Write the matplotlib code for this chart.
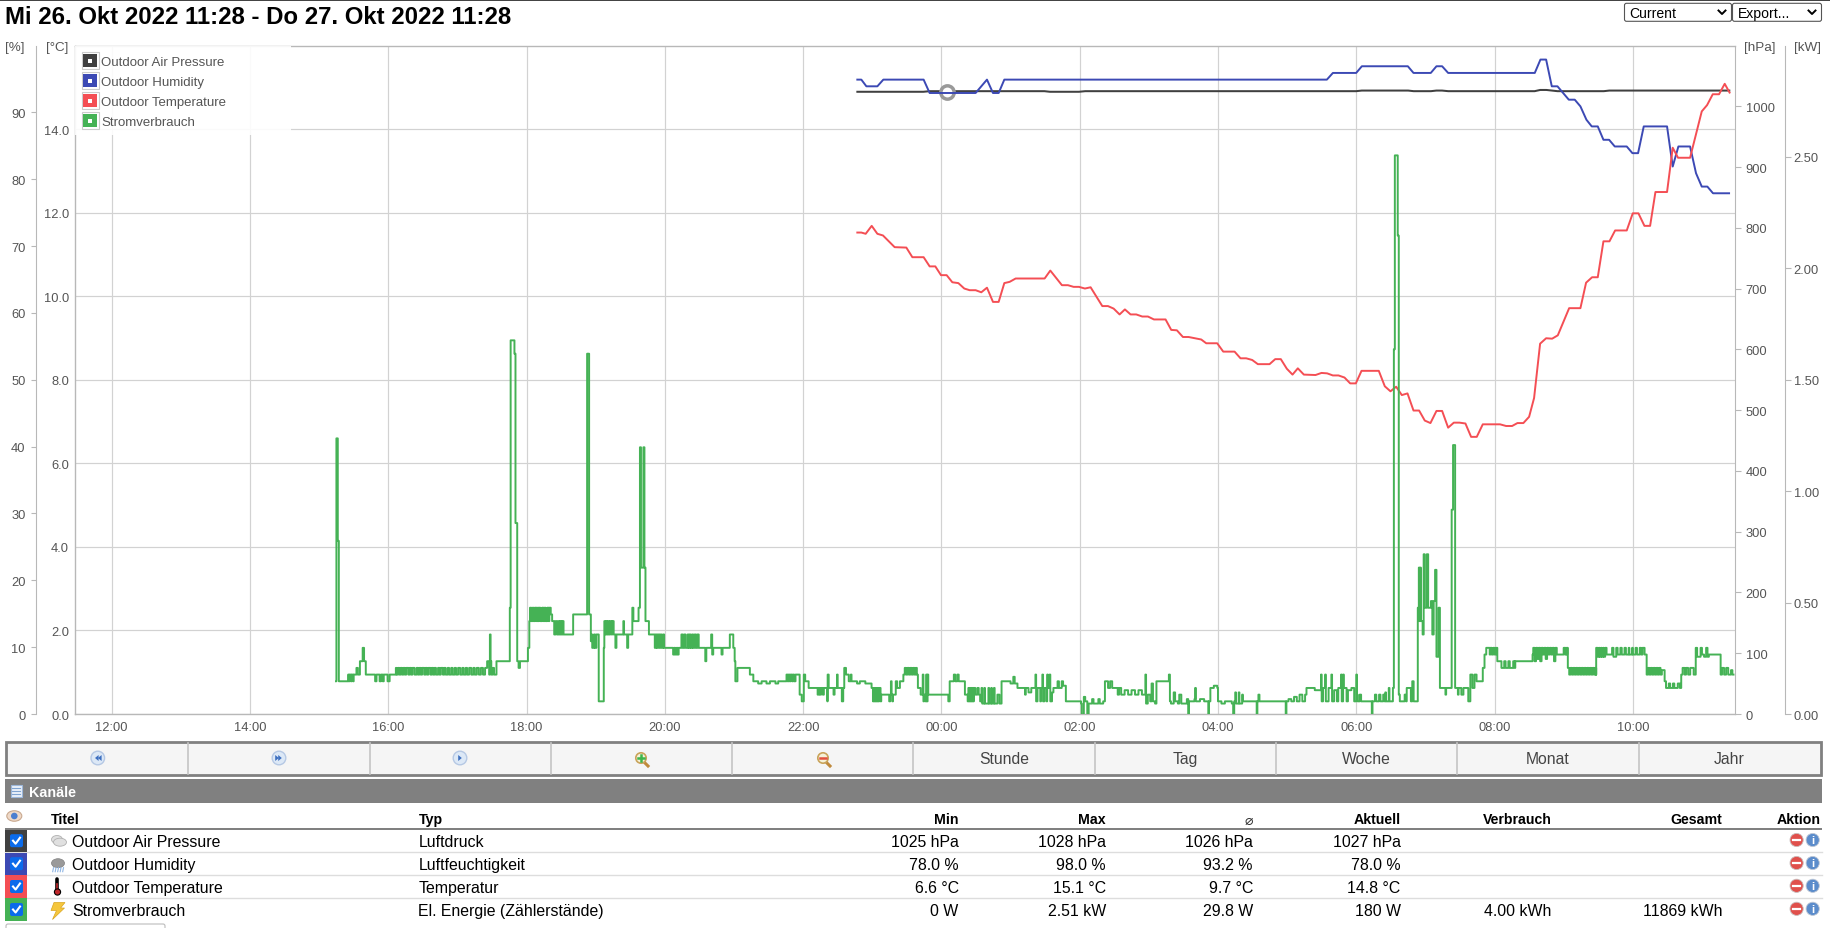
import matplotlib
matplotlib.use("Agg")
import matplotlib.pyplot as plt
from matplotlib.patches import Rectangle, Circle, Ellipse, Polygon, FancyBboxPatch
from matplotlib.transforms import ScaledTranslation

plt.rcParams['font.family'] = ['Liberation Sans', 'DejaVu Sans']

# ---------------- DATA ----------------
title_text = "Mi 26. Okt 2022 11:28 - Do 27. Okt 2022 11:28"
series_names = ["Outdoor Air Pressure", "Outdoor Humidity", "Outdoor Temperature", "Stromverbrauch"]
series_types = ["Luftdruck", "Luftfeuchtigkeit", "Temperatur", "El. Energie (Zählerstände)"]
col_min = ["1025 hPa", "78.0 %", "6.6 °C", "0 W"]
col_max = ["1028 hPa", "98.0 %", "15.1 °C", "2.51 kW"]
col_avg = ["1026 hPa", "93.2 %", "9.7 °C", "29.8 W"]
col_now = ["1027 hPa", "78.0 %", "14.8 °C", "180 W"]
col_use = ["", "", "", "4.00 kWh"]
col_total = ["", "", "", "11869 kWh"]
buttons = ["Stunde", "Tag", "Woche", "Monat", "Jahr"]

hour_ticks = [12, 14, 16, 18, 20, 22, 24, 26, 28, 30, 32, 34]
hour_labels = ["12:00", "14:00", "16:00", "18:00", "20:00", "22:00", "00:00", "02:00", "04:00", "06:00", "08:00", "10:00"]

pressure_hours = [22.77, 23.74, 23.83, 25.49, 25.57, 25.99, 26.08, 30.0, 30.08, 30.75, 30.83, 31.08, 31.16, 31.24, 31.33,
                  32.58, 32.66, 32.75, 32.83, 32.91, 33.58, 33.66, 35.41]
pressure_hpa = [1025, 1025, 1026, 1026, 1025, 1025, 1026, 1026, 1027, 1027, 1026, 1026, 1027, 1027, 1026,
                1026, 1028, 1028, 1027, 1026, 1026, 1027, 1027]

humidity_hours = [22.77, 22.842, 22.915, 23.074, 23.16, 23.743, 23.83, 24.495, 24.659, 24.746, 24.828, 24.91, 29.575, 29.662,
                  29.999, 30.081, 30.746, 30.828, 31.078, 31.16, 31.242, 31.329, 32.582, 32.664, 32.746, 32.828, 32.91,
                  33.074, 33.16, 33.242, 33.329, 33.406, 33.493, 33.575, 33.657, 33.739, 33.912, 33.994, 34.076, 34.158,
                  34.495, 34.577, 34.659, 34.828, 34.914, 34.997, 35.078, 35.16, 35.406]
humidity_pct = [95, 95, 94, 94, 95, 95, 93, 93, 95, 93, 93, 95, 95, 96,
                96, 97, 97, 96, 96, 97, 97, 96, 96, 98, 98, 94, 94,
                92, 92, 91, 89, 88, 88, 86, 86, 85, 85, 84, 84, 88,
                88, 82, 85, 85, 81, 79, 79, 78, 78]

temp_hours = [22.77, 22.842, 22.905, 22.992, 23.074, 23.155, 23.324, 23.493, 23.58, 23.743, 23.83, 23.912, 23.994, 24.076,
              24.158, 24.245, 24.331, 24.409, 24.495, 24.577, 24.659, 24.746, 24.828, 24.91, 24.987, 25.074, 25.493, 25.575,
              25.743, 25.83, 25.912, 25.989, 26.076, 26.158, 26.327, 26.409, 26.491, 26.577, 26.654, 26.736, 26.818, 26.905,
              26.987, 27.074, 27.242, 27.324, 27.406, 27.493, 27.575, 27.758, 27.83, 27.989, 28.076, 28.24, 28.326, 28.408,
              28.495, 28.577, 28.746, 28.828, 28.909, 28.996, 29.078, 29.155, 29.242, 29.411, 29.497, 29.579, 29.661, 29.743,
              29.83, 29.912, 29.994, 30.076, 30.326, 30.413, 30.495, 30.577, 30.659, 30.741, 30.828, 30.909, 30.991, 31.073,
              31.16, 31.242, 31.329, 31.411, 31.493, 31.579, 31.661, 31.743, 31.83, 32.08, 32.167, 32.254, 32.331, 32.417,
              32.5, 32.572, 32.659, 32.746, 32.833, 32.915, 33.079, 33.242, 33.324, 33.411, 33.493, 33.575, 33.662, 33.744,
              33.912, 33.999, 34.081, 34.168, 34.25, 34.327, 34.495, 34.577, 34.654, 34.828, 34.997, 35.074, 35.156, 35.247,
              35.329, 35.406]
temp_c = [11.54, 11.54, 11.51, 11.70, 11.51, 11.47, 11.19, 11.18, 10.95, 10.95, 10.73, 10.73, 10.52, 10.52,
          10.35, 10.33, 10.20, 10.16, 10.16, 10.11, 10.22, 9.88, 9.88, 10.33, 10.36, 10.44, 10.44, 10.63,
          10.28, 10.28, 10.24, 10.24, 10.20, 10.23, 9.78, 9.78, 9.72, 9.58, 9.70, 9.58, 9.58, 9.53,
          9.53, 9.46, 9.46, 9.21, 9.20, 9.04, 9.04, 8.98, 8.89, 8.89, 8.69, 8.69, 8.53, 8.53,
          8.49, 8.39, 8.39, 8.51, 8.51, 8.28, 8.14, 8.29, 8.14, 8.13, 8.18, 8.17, 8.12, 8.12,
          8.07, 7.93, 7.93, 8.23, 8.23, 7.86, 7.74, 7.85, 7.65, 7.69, 7.28, 7.28, 7.04, 6.98,
          7.27, 7.27, 6.87, 6.99, 6.99, 6.97, 6.65, 6.65, 6.95, 6.95, 6.91, 6.91, 6.98, 6.98,
          7.13, 7.58, 8.88, 9.01, 9.00, 9.08, 9.73, 9.73, 10.34, 10.47, 10.47, 11.33, 11.33, 11.59,
          11.59, 12.00, 12.00, 11.70, 11.70, 12.51, 12.51, 13.57, 13.33, 13.33, 14.44, 14.59, 14.85, 14.85,
          15.10, 14.87]

power_afternoon = [
    (15.23,150),(15.25,1240),(15.27,780),(15.285,150),(15.42,180),(15.43,150),(15.44,180),(15.46,150),(15.47,180),
    (15.49,150),(15.50,180),(15.54,210),(15.56,180),(15.59,240),(15.63,300),(15.65,240),(15.675,180),(15.81,150),
    (15.83,180),(15.875,150),(15.895,180),(15.92,150),(15.935,180),(15.99,150),(16.02,180),
    (16.11,210),(16.12,180),(16.14,210),(16.16,180),(16.18,210),(16.20,180),(16.22,210),(16.24,180),(16.26,210),
    (16.29,180),(16.31,210),(16.33,180),(16.35,210),(16.38,180),(16.41,210),(16.43,180),(16.45,210),(16.47,180),
    (16.49,210),(16.52,180),(16.54,210),(16.56,180),(16.58,210),(16.61,180),(16.63,210),(16.65,180),(16.67,210),
    (16.69,180),(16.72,210),(16.74,180),(16.76,210),(16.79,180),(16.81,210),(16.83,180),(16.86,210),(16.88,180),
    (16.91,210),(16.93,180),(16.96,210),(16.98,180),(17.01,210),(17.04,180),(17.07,210),(17.09,180),(17.12,210),
    (17.14,180),(17.17,210),(17.20,180),(17.23,210),(17.25,180),(17.28,210),(17.31,180),(17.34,210),(17.37,180),
    (17.40,210),(17.43,240),(17.46,180),(17.47,360),(17.48,240),(17.49,180),(17.51,210),(17.53,180),(17.565,240),
]
power_evening = [
    (17.758,480),(17.77,1680),(17.825,1620),(17.84,860),(17.865,240),(17.885,210),(17.905,240),(18.02,300),(18.04,420),
    (18.05,480),(18.06,420),(18.075,480),(18.085,420),(18.10,480),(18.11,420),(18.125,480),(18.145,420),(18.16,480),
    (18.17,420),(18.18,480),(18.20,420),(18.225,480),(18.245,420),(18.26,480),(18.275,420),(18.30,480),(18.32,420),
    (18.33,480),(18.35,450),(18.37,420),(18.40,360),(18.42,420),(18.44,360),(18.46,420),(18.475,360),(18.49,420),
    (18.505,360),(18.52,420),(18.535,360),(18.674,450),(18.876,1620),(18.905,450),(18.93,330),(18.94,360),(18.95,300),
    (18.975,360),(18.99,300),(19.01,360),(19.044,60),(19.117,300),(19.125,420),(19.14,360),(19.15,420),(19.165,360),
    (19.18,420),(19.195,360),(19.21,420),(19.23,360),(19.24,420),(19.26,360),(19.285,300),(19.30,360),(19.40,420),
    (19.41,360),(19.455,300),(19.47,360),(19.53,480),(19.545,420),(19.62,480),(19.64,1200),(19.655,660),(19.69,1200),
    (19.705,660),(19.72,420),(19.77,360),(19.855,300),(19.87,360),(19.885,300),(19.90,360),(19.92,300),(19.935,360),
    (19.955,300),(19.975,360),(19.99,300),(20.12,270),(20.135,300),(20.15,270),(20.17,300),(20.185,270),(20.20,300),
    (20.24,360),(20.26,300),(20.28,360),(20.30,300),(20.33,360),(20.345,300),(20.36,360),(20.375,300),(20.395,360),
    (20.41,300),(20.43,360),(20.45,300),(20.47,360),(20.49,300),(20.585,240),(20.60,300),(20.67,360),(20.685,270),
    (20.70,300),(20.82,270),(20.835,300),(20.94,360),(20.99,300),(21.01,240),(21.02,150),(21.05,210),(21.23,180),
    (21.28,150),(21.35,140),(21.40,150),(21.47,140),(21.52,150),(21.60,140),(21.64,150),(21.76,180),(21.775,150),
    (21.79,180),(21.805,150),(21.82,180),(21.84,150),(21.855,180),(21.87,150),(21.89,180),(21.95,90),(21.98,60),
]
power_night = [
    (22.01,180),(22.03,150),(22.08,120),(22.21,90),(22.225,120),(22.24,90),(22.26,120),(22.285,90),(22.30,120),
    (22.35,60),(22.355,180),(22.37,120),(22.44,90),(22.455,120),(22.49,180),(22.50,120),(22.56,60),(22.58,120),
    (22.595,210),(22.62,180),(22.66,150),(22.69,180),(22.70,150),(22.78,140),(22.82,150),(22.90,140),(22.99,120),
    (23.01,60),(23.02,120),(23.03,60),(23.04,120),(23.05,60),(23.06,120),(23.07,60),(23.08,120),(23.09,60),(23.10,120),
    (23.12,60),(23.13,90),(23.245,60),(23.26,90),(23.27,150),(23.28,90),(23.29,60),(23.30,90),(23.34,150),(23.36,120),
    (23.40,150),(23.45,180),(23.47,210),(23.49,180),(23.51,210),(23.53,180),(23.55,210),(23.57,180),(23.59,210),(23.61,180),
    (23.63,210),(23.645,180),(23.66,120),(23.70,90),(23.73,180),(23.74,60),(23.75,90),(23.77,60),(23.78,180),(23.79,60),
    (23.80,180),(23.81,90),(24.10,60),(24.12,150),(24.18,180),(24.20,150),(24.23,180),(24.25,150),(24.34,90),(24.38,60),
    (24.39,120),(24.40,60),(24.41,120),(24.42,60),(24.43,120),(24.44,60),(24.45,120),(24.46,60),(24.47,120),(24.49,90),
    (24.52,120),(24.54,90),(24.56,60),(24.58,120),(24.59,50),(24.62,120),(24.63,50),(24.68,120),(24.69,50),(24.72,120),
    (24.73,50),(24.76,120),(24.77,50),(24.81,90),(24.84,50),(24.87,150),(24.92,150),(25.0,140),(25.04,170),(25.06,140),
    (25.10,120),(25.21,90),(25.22,120),(25.26,100),(25.30,120),(25.36,180),(25.37,60),(25.39,120),(25.43,60),(25.44,120),
    (25.46,180),(25.47,60),(25.49,120),(25.52,60),(25.53,180),(25.54,120),(25.565,180),(25.575,60),(25.60,100),(25.62,120),
    (25.68,150),(25.70,120),(25.74,150),(25.76,130),(25.80,60),(26.02,50),(26.03,0),(26.06,80),(26.08,60),(26.11,0),
    (26.13,50),(26.18,70),(26.20,50),(26.27,70),(26.29,50),(26.34,60),(26.365,150),(26.41,120),(26.44,150),(26.47,120),
    (26.52,120),(26.55,90),(26.57,120),(26.60,90),(26.65,110),(26.70,90),(26.75,110),(26.80,90),(26.85,110),(26.90,90),
    (26.95,180),(26.96,50),(26.985,90),(27.02,60),(27.04,140),(27.06,60),(27.09,50),(27.11,150),(27.29,180),(27.305,60),
    (27.32,50),(27.36,100),(27.38,60),(27.42,50),(27.44,90),(27.47,50),(27.55,70),(27.57,0),(27.58,60),(27.66,70),
    (27.67,120),(27.68,60),(27.74,70),(27.80,60),(27.86,0),(27.87,60),(27.89,120),(27.94,130),(27.99,120),(28.0,60),
    (28.05,50),(28.10,60),(28.20,50),(28.22,0),(28.235,60),(28.25,100),(28.26,50),(28.30,100),(28.31,50),(28.35,90),
    (28.36,60),(28.56,0),(28.57,60),(28.585,90),(28.60,60),(28.98,0),(28.99,60),(29.02,70),(29.06,60),(29.10,80),
    (29.14,60),(29.18,90),(29.22,60),(29.26,90),(29.28,120),(29.40,110),(29.49,180),(29.50,60),(29.52,120),(29.55,180),
    (29.56,60),(29.60,120),(29.64,180),(29.65,60),(29.68,110),(29.72,60),(29.74,120),(29.78,180),(29.79,60),(29.81,180),
    (29.82,120),(29.86,60),(29.88,110),(29.93,120),(29.97,60),
]
power_morning = [
    (30.0,180),(30.01,90),(30.02,60),(30.05,90),(30.07,60),(30.13,60),(30.225,0),(30.235,60),(30.27,90),(30.29,60),
    (30.33,90),(30.35,60),(30.39,90),(30.41,60),(30.42,100),(30.43,60),(30.47,120),(30.48,60),(30.53,120),(30.544,1640),
    (30.558,2510),(30.60,2150),(30.615,90),(30.63,60),(30.70,90),(30.72,60),(30.73,120),(30.79,60),(30.81,150),(30.83,60),
    (30.89,480),(30.905,660),(30.915,420),(30.925,660),(30.935,420),(30.96,360),(30.975,720),(30.99,480),(31.02,720),(31.04,480),
    (31.08,510),(31.10,360),(31.12,510),(31.14,650),(31.16,260),(31.19,480),(31.21,120),(31.29,90),(31.30,120),(31.38,920),
    (31.40,1210),(31.43,120),(31.47,90),(31.48,120),(31.52,90),(31.55,120),(31.62,60),(31.65,180),(31.68,120),(31.71,180),
    (31.74,150),(31.80,150),(31.83,210),(31.855,270),(31.88,300),(31.93,270),(31.94,300),(31.96,270),(31.98,300),(32.0,270),
    (32.02,300),(32.04,240),(32.10,210),(32.14,240),(32.16,210),(32.2,240),(32.22,210),(32.27,240),(32.29,210),(32.30,240),
    (32.55,270),(32.56,300),(32.58,240),(32.60,300),(32.62,250),(32.64,300),(32.66,240),(32.68,300),(32.70,270),(32.72,300),
    (32.74,250),(32.76,300),(32.78,270),(32.80,300),(32.82,270),(32.84,300),(32.86,240),(32.88,300),(32.90,270),(33.0,300),
    (33.02,270),(33.03,300),(33.04,270),(33.05,300),(33.025,270),(33.06,210),(33.08,180),(33.10,210),(33.12,180),(33.14,210),
    (33.16,180),(33.18,210),(33.20,180),(33.22,210),(33.24,180),(33.26,210),(33.28,180),(33.30,210),(33.32,180),(33.34,210),
    (33.36,180),(33.38,210),(33.40,180),(33.42,210),(33.44,180),(33.46,210),(33.47,180),(33.47,300),(33.49,260),(33.51,300),
    (33.52,260),(33.54,300),(33.55,260),(33.57,300),(33.58,260),(33.60,300),(33.62,270),(33.68,270),(33.70,300),(33.72,260),
    (33.76,300),(33.78,270),(33.82,300),(33.84,270),(33.88,300),(33.90,270),(33.94,300),(33.95,270),(33.99,300),(34.0,270),
    (34.04,300),(34.06,270),(34.10,300),(34.12,270),(34.14,300),(34.17,270),(34.2,180),(34.22,210),(34.24,180),(34.26,210),
    (34.28,180),(34.30,210),(34.32,180),(34.34,210),(34.36,180),(34.38,210),(34.40,180),(34.42,200),(34.46,150),(34.48,120),
    (34.52,140),(34.54,120),(34.58,140),(34.6,120),(34.65,140),(34.68,120),(34.70,180),(34.72,210),(34.75,180),(34.77,210),
    (34.80,180),(34.83,210),(34.88,180),(34.91,300),(34.93,260),(34.98,300),(35.0,270),(35.03,260),(35.06,300),(35.08,260),
    (35.10,270),(35.27,180),(35.29,210),(35.32,180),(35.35,210),(35.38,180),(35.42,200),(35.44,180),(35.47,180),
]
power_all = sorted(power_afternoon + power_evening + power_night + power_morning, key=lambda p: p[0])
power_hours = [p[0] for p in power_all]
power_watts = [p[1] for p in power_all]

# ---------------- STYLE ----------------
W, H = 1831, 929
BLACK, BLUE, RED, GREEN = "#404040", "#3C49B4", "#F44E54", "#45B255"
series_colors = [BLACK, BLUE, RED, GREEN]
GRID, FRAME, LABEL = "#D2D2D2", "#B8B8B8", "#555555"
L, R, T, B = 74.7, 1735.5, 46.5, 715.0

fig = plt.figure(figsize=(W / 100, H / 100), dpi=100, facecolor="white")
ax = fig.add_axes([L / W, 1 - B / H, (R - L) / W, (B - T) / H])
ax.set_xlim(11.465, 35.485)
ax.set_ylim(0, 16)
ax.set_xticks(hour_ticks)
ax.set_xticklabels(hour_labels, fontsize=9.3, color=LABEL)
ax.set_yticks([0, 2, 4, 6, 8, 10, 12, 14])
ax.set_yticklabels(["0.0", "2.0", "4.0", "6.0", "8.0", "10.0", "12.0", "14.0"], fontsize=9.3, color=LABEL)
ax.tick_params(axis="x", length=0, pad=5)
ax.tick_params(axis="y", length=0, pad=4.1)
ax.grid(True, color=GRID, linewidth=0.85)
ax.set_axisbelow(True)
for name, sp in ax.spines.items():
    sp.set_color(FRAME)
    sp.set_linewidth(1.0)
ax.spines["right"].set_visible(False)


def twin(ylim):
    a = ax.twinx()
    a.set_ylim(*ylim)
    a.patch.set_visible(False)
    for sp in a.spines.values():
        sp.set_visible(False)
    a.set_yticks([])
    return a


ax_p = twin((0, 1100))
ax_h = twin((0, 100))
ax_t = twin((0, 16))
ax_w = twin((0, 3.0))

# left % axis
ax_h.yaxis.tick_left()
ax_h.spines["left"].set_visible(True)
ax_h.spines["left"].set_position(("outward", 28.1))
ax_h.spines["left"].set_color(FRAME)
ax_h.set_yticks(range(0, 100, 10))
ax_h.tick_params(axis="y", length=3.6, color=FRAME, labelsize=9.3, labelcolor=LABEL, pad=3.6)

# right hPa axis
ax_p.yaxis.tick_right()
ax_p.spines["right"].set_visible(True)
ax_p.spines["right"].set_color(FRAME)
ax_p.set_yticks(range(0, 1100, 100))
ax_p.tick_params(axis="y", length=4.3, color=FRAME, labelsize=9.3, labelcolor=LABEL, pad=3.0)

# right kW axis
ax_w.yaxis.tick_right()
ax_w.spines["right"].set_visible(True)
ax_w.spines["right"].set_position(("outward", 35.6))
ax_w.spines["right"].set_color(FRAME)
ax_w.set_yticks([0, 0.5, 1.0, 1.5, 2.0, 2.5])
ax_w.set_yticklabels(["0.00", "0.50", "1.00", "1.50", "2.00", "2.50"])
ax_w.tick_params(axis="y", length=4.1, color=FRAME, labelsize=9.3, labelcolor=LABEL, pad=2.2)

# series (a sub-pixel nudge so anti-aliased lines sit on the same pixel rows)
nudge = ScaledTranslation(0, -0.007, fig.dpi_scale_trans)
ax_p.plot(pressure_hours, pressure_hpa, color=BLACK, lw=1.45, solid_joinstyle="round", solid_capstyle="butt",
          transform=ax_p.transData + nudge)
ax_p.plot([24.08], [1025], "o", ms=9.6, mfc="white", mec="#999999", mew=2.5, zorder=5,
          transform=ax_p.transData + nudge)
ax_h.plot(humidity_hours, humidity_pct, color=BLUE, lw=1.4, solid_joinstyle="round", solid_capstyle="butt",
          transform=ax_h.transData + nudge)
ax_t.plot(temp_hours, temp_c, color=RED, lw=1.4, solid_joinstyle="round", solid_capstyle="butt",
          transform=ax_t.transData + nudge)
ax_w.plot(power_hours, [v / 1000 for v in power_watts], color=GREEN, lw=1.4, drawstyle="steps-post",
          solid_capstyle="butt", transform=ax_w.transData + nudge)

# ---------------- PAGE OVERLAY ----------------
ov = fig.add_axes([0, 0, 1, 1], zorder=20)
ov.set_xlim(0, W)
ov.set_ylim(H, 0)
ov.axis("off")
ov.patch.set_visible(False)


def rect(x0, y0, x1, y1, fc="none", ec="none", lw=0.0, z=1, alpha=None):
    ov.add_patch(Rectangle((x0, y0), x1 - x0, y1 - y0, facecolor=fc, edgecolor=ec, linewidth=lw, zorder=z, alpha=alpha))


def txt(x, y, s, ha="left", size=9.3, color=LABEL, weight="normal", z=5):
    ov.text(x, y, s, ha=ha, va="center", fontsize=size, color=color, fontweight=weight, zorder=z)


# top bar + title
rect(0, 0, W, 1.6, fc="#444444")
txt(5.5, 17.5, title_text, size=17.28, color="black", weight="bold")

# selects
for x0, x1, s in [(1624.5, 1731.5, "Current"), (1732.5, 1821.5, "Export...")]:
    ov.add_patch(FancyBboxPatch((x0 + 1, 5.3), x1 - x0 - 2, 16, boxstyle="round,pad=1,rounding_size=2",
                                facecolor="white", edgecolor="#555555", linewidth=0.8, zorder=2))
    txt(x0 + 5, 14.3, s, size=10.1, color="black")
    ov.plot([x1 - 13, x1 - 9.5, x1 - 6], [11.5, 15, 11.5], color="black", lw=1.4, zorder=3)

# axis unit headers
txt(5.5, 48, "[%]", size=9.7)
txt(46.5, 48, "[°C]", size=9.7)
txt(1744.5, 48, "[hPa]", size=9.7)
txt(1794, 48, "[kW]", size=9.7)

# legend
rect(75.5, 47.2, 291, 136, fc="white", alpha=0.9)
for i, (name, c) in enumerate(zip(series_names, series_colors)):
    cy = 61.7 + 20 * i
    rect(81.7, cy - 8.3, 98.6, cy + 8.3, fc="white", ec="#CCCCCC", lw=0.8, z=2)
    rect(83.5, cy - 6.6, 96.8, cy + 6.6, fc=c, z=3)
    rect(88.3, cy - 2, 91.9, cy + 2, fc="white", z=4)
    txt(101, cy + 0.8, name, size=9.5)

# button bar
rect(6, 743, 1821, 775.5, fc="#F5F5F5", ec="#808080", lw=2.0)
for dx in [188, 369.6, 551, 732, 913.5, 1094.7, 1276, 1457.2, 1638.6]:
    ov.plot([dx, dx], [744, 775], color="#C4C4C4", lw=1.2, zorder=3)
for bx, s in zip([1004, 1185.5, 1366, 1548, 1729], buttons):
    txt(bx, 759.7, s, ha="center", size=11.3, color="#444444")
for bx, glyphs in [(97.8, [(-1, "<"), (2, "<")]), (279, [(-2, ">"), (1, ">")]), (460, [(0, ">")])]:
    ov.add_patch(Circle((bx, 759), 6.8, facecolor="#DCE8F6", edgecolor="#B5C8E4", lw=1, zorder=3))
    for off, g in glyphs:
        d = -1 if g == "<" else 1
        ov.add_patch(Polygon([(bx + off - d * 1.8, 756), (bx + off + d * 1.8, 759), (bx + off - d * 1.8, 762)],
                             facecolor="#3D6FC0", zorder=4))
for bx, cross in [(641, True), (823, False)]:
    ov.plot([bx + 3, bx + 7], [763, 767], color="#C08A3C", lw=2.2, zorder=3)
    ov.add_patch(Circle((bx, 759), 5.2, facecolor="#F5F2D8", edgecolor="#C9A35A", lw=1.2, zorder=4))
    ov.plot([bx - 3, bx + 3], [759, 759], color="#3DB54A" if cross else "#E2503C", lw=1.8, zorder=5)
    if cross:
        ov.plot([bx, bx], [756, 762], color="#3DB54A", lw=1.8, zorder=5)

# Kanäle bar
rect(5, 780, 1822, 804, fc="#808080")
rect(11, 786, 22, 798, fc="#EAF1FA", ec="#9DB7DA", lw=0.8, z=2)
for yy in [789, 792, 795]:
    ov.plot([12.5, 20.5], [yy, yy], color="#7FA3D0", lw=0.8, zorder=3)
txt(29.5, 793, "Kanäle", size=10.3, color="white", weight="bold")

# table header
ov.add_patch(Ellipse((14.3, 817), 15, 10.5, facecolor="#EFD9C8", edgecolor="#C9A98F", lw=0.8, zorder=3))
ov.add_patch(Circle((14.3, 817), 3.3, facecolor="#4C7FD0", zorder=4))
HDR = "black"
txt(50.4, 820.5, "Titel", size=10.2, color=HDR, weight="bold")
txt(418.7, 820.5, "Typ", size=10.2, color=HDR, weight="bold")
right_edges = [958.7, 1105.8, 1252.9, 1400.6, 1551.5, 1722.5]
for xr, s in zip(right_edges, ["Min", "Max", "⌀", "Aktuell", "Verbrauch", "Gesamt"]):
    txt(xr, 820.5, s, ha="right", size=10.2, color="#333333" if s == "⌀" else HDR,
        weight="normal" if s == "⌀" else "bold")
txt(1820.7, 820.5, "Aktion", ha="right", size=10.2, color=HDR, weight="bold")
rect(5, 829, 1822, 831, fc="#808080")

# table rows
row_y = [841.7, 864.7, 887.5, 910.5]
for yy in [853.4, 876.4, 899.4]:
    ov.plot([5, 1822], [yy, yy], color="#DDDDDD", lw=1.0, zorder=1)
for i, cy in enumerate(row_y):
    rect(5, cy - 11.2, 27, cy + 11.4, fc=series_colors[i], z=2)
    ov.add_patch(FancyBboxPatch((11, cy - 5.5), 11, 11, boxstyle="round,pad=1,rounding_size=2",
                                facecolor="#0B6BEB", edgecolor="none", zorder=3))
    ov.plot([13, 15.6, 20], [cy, cy + 3, cy - 3], color="white", lw=1.5, zorder=4)
    txt(72.2, cy + 1.1, series_names[i], size=11.4, color="black")
    txt(418.4, cy + 1.1, series_types[i], size=11.4, color="black")
    for xr, col in zip(right_edges, [col_min, col_max, col_avg, col_now, col_use, col_total]):
        if col[i]:
            txt(xr, cy + 1.1, col[i], ha="right", size=11.4, color="black")
    ov.add_patch(Circle((1796.6, cy - 0.7), 6.6, facecolor="#E0504C", edgecolor="#C9BFBF", lw=0.6, zorder=3))
    ov.plot([1793, 1800.2], [cy - 0.7, cy - 0.7], color="white", lw=1.6, zorder=4)
    ov.add_patch(Circle((1812.7, cy - 0.7), 6.6, facecolor="#5B8CCB", edgecolor="#BFC8D6", lw=0.6, zorder=3))
    txt(1812.7, cy - 0.7, "i", ha="center", size=8, color="white", weight="bold")

# channel icons
cy = row_y[0]
for ex, ey, ew, eh in [(57, cy - 1.2, 11, 8), (60, cy + 1.5, 13, 8)]:
    ov.add_patch(Ellipse((ex, ey), ew, eh, facecolor="#E0E0E0", edgecolor="#B0B0B0", lw=0.6, zorder=3))
cy = row_y[1]
ov.add_patch(Ellipse((58, cy - 0.5), 13, 9, facecolor="#9A9A9A", edgecolor="#808080", lw=0.5, zorder=3))
for dx in [53.5, 56, 58.5, 61, 63.5]:
    ov.plot([dx, dx - 0.8], [cy + 4, cy + 8], color="#8FB6E4", lw=0.8, zorder=3)
cy = row_y[2]
ov.plot([57.5, 57.5], [cy - 8, cy + 4], color="black", lw=2.6, solid_capstyle="round", zorder=3)
ov.plot([57.5, 57.5], [cy - 3, cy + 4], color="#C0282C", lw=1.2, zorder=4)
ov.add_patch(Circle((57.5, cy + 5.5), 3.1, facecolor="#C0282C", edgecolor="black", lw=0.8, zorder=4))
cy = row_y[3]
ov.add_patch(Polygon([(54, cy - 7), (65, cy - 7), (60.5, cy - 1.5), (64.5, cy - 1.5), (52.5, cy + 10), (56.5, cy + 1), (51, cy + 1)],
                     facecolor="#F5C63C", edgecolor="#D9A520", lw=0.5, zorder=3))

# bottom rounded box edge
ov.add_patch(FancyBboxPatch((6, 925), 159, 14, boxstyle="round,pad=0,rounding_size=2", facecolor="white",
                            edgecolor="#BBBBBB", lw=0.8, zorder=2, clip_on=True))

fig.savefig("out.png", dpi=100, facecolor="white")
